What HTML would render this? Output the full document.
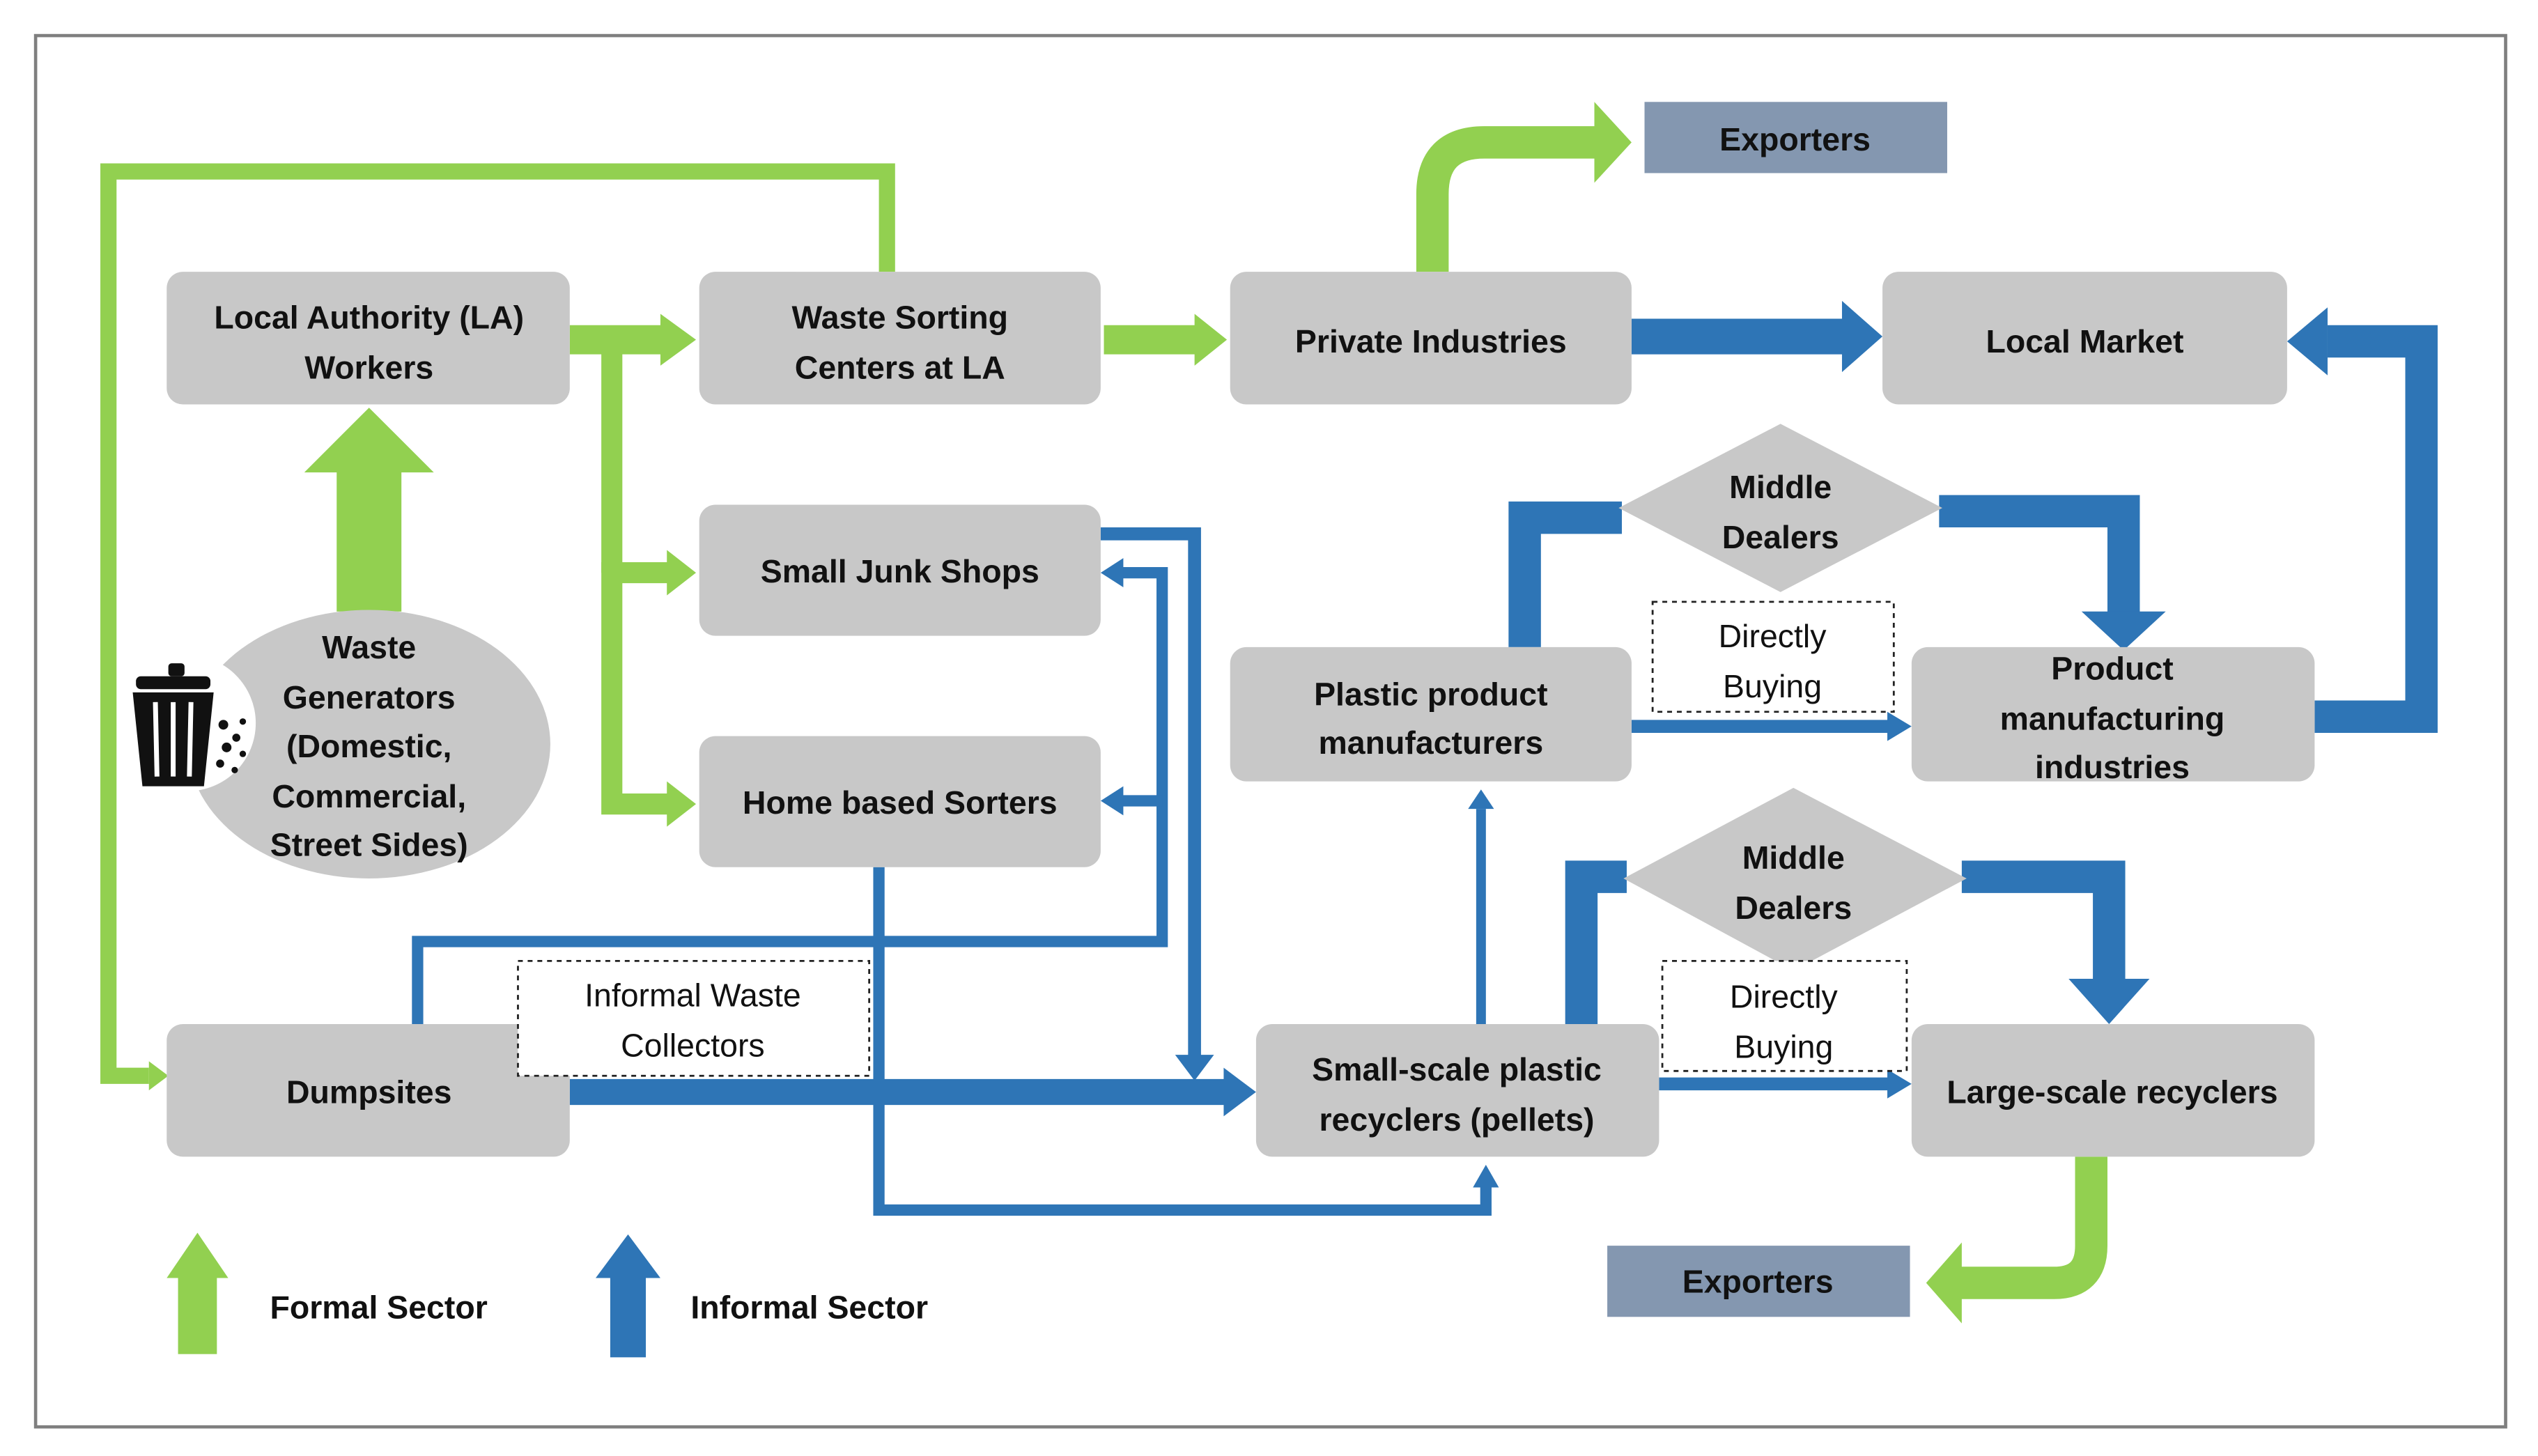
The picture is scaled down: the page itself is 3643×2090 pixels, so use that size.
<!DOCTYPE html>
<html><head><meta charset="utf-8"><style>
html,body{margin:0;padding:0;background:#fff}
svg{display:block}
text{font-family:"Liberation Sans",sans-serif;font-weight:bold;font-size:20px;fill:#111;text-anchor:middle}
.n{font-weight:normal}
</style></head><body>
<svg width="3643" height="2090" viewBox="0 0 1568 900" preserveAspectRatio="none" xmlns="http://www.w3.org/2000/svg">
<rect x="0" y="0" width="1568" height="900" fill="#fff"/>
<rect x="22" y="22" width="1526" height="860" fill="none" stroke="#7f7f7f" stroke-width="2"/>

<!-- GREEN connectors -->
<g fill="none" stroke="#92d050">
<polyline points="548,168 548,106 67,106 67,665 92,665" stroke-width="10"/>
<line x1="352" y1="210" x2="412" y2="210" stroke-width="18"/>
<line x1="682" y1="210" x2="740" y2="210" stroke-width="18"/>
<polyline points="415,354 378,354 378,497 415,497" stroke-width="13"/>
<line x1="378" y1="215" x2="378" y2="354" stroke-width="13"/>
<path d="M885,168 L885,120 Q885,88 917,88 L988,88" stroke-width="20"/>
<path d="M1292,715 L1292,770 Q1292,793 1269,793 L1210,793" stroke-width="20"/>
</g>
<g fill="#92d050">
<polygon points="92,656 104,665 92,674"/>
<polygon points="408,194 430,210 408,226"/>
<polygon points="738,194 758,210 738,226"/>
<polygon points="412,340 430,354 412,368"/>
<polygon points="412,483 430,497 412,511"/>
<polygon points="985,63 1008,88 985,113"/>
<polygon points="1212,768 1190,793 1212,818"/>
<rect x="208" y="290" width="40" height="88"/>
<polygon points="188,292 228,252 268,292"/>
<rect x="110" y="785" width="24" height="52"/>
<polygon points="103,790 122,762 141,790"/>
</g>

<!-- BLUE connectors -->
<g fill="none" stroke="#2e75b6">
<line x1="1008" y1="208" x2="1140" y2="208" stroke-width="22"/>
<polyline points="1430,443 1496,443 1496,211 1438,211" stroke-width="20"/>
<polyline points="942,400 942,320 1002,320" stroke-width="20"/>
<polyline points="1198,316 1312,316 1312,382" stroke-width="20"/>
<line x1="1008" y1="449" x2="1168" y2="449" stroke-width="8"/>
<line x1="915" y1="633" x2="915" y2="500" stroke-width="6"/>
<polyline points="977,633 977,542 1005,542" stroke-width="20"/>
<polyline points="1212,542 1303,542 1303,608" stroke-width="20"/>
<line x1="1025" y1="670" x2="1168" y2="670" stroke-width="8"/>
<line x1="352" y1="675" x2="758" y2="675" stroke-width="16"/>
<polyline points="680,330 738,330 738,655" stroke-width="8"/>
<polyline points="258,633 258,582 718,582 718,354 692,354" stroke-width="7"/>
<line x1="718" y1="495" x2="692" y2="495" stroke-width="7"/>
<polyline points="543,536 543,748 918,748 918,733" stroke-width="7"/>
</g>
<g fill="#2e75b6">
<polygon points="1138,186 1163,208 1138,230"/>
<polygon points="1438,190 1413,211 1438,232"/>
<polygon points="1286,378 1338,378 1312,402"/>
<polygon points="1166,440 1181,449 1166,458"/>
<polygon points="907,500 915,488 923,500"/>
<polygon points="1278,605 1328,605 1303,633"/>
<polygon points="1166,661 1181,670 1166,679"/>
<polygon points="756,660 776,675 756,690"/>
<polygon points="726,652 750,652 738,668"/>
<polygon points="694,345 680,354 694,363"/>
<polygon points="694,486 680,495 694,504"/>
<polygon points="910,734 918,720 926,734"/>
<rect x="377" y="785" width="22" height="54"/>
<polygon points="368,790 388,763 408,790"/>
</g>

<!-- Boxes -->
<g fill="#c8c8c8">
<rect x="103" y="168" width="249" height="82" rx="10"/>
<rect x="432" y="168" width="248" height="82" rx="10"/>
<rect x="760" y="168" width="248" height="82" rx="10"/>
<rect x="1163" y="168" width="250" height="82" rx="10"/>
<rect x="432" y="312" width="248" height="81" rx="10"/>
<rect x="432" y="455" width="248" height="81" rx="10"/>
<rect x="760" y="400" width="248" height="83" rx="10"/>
<rect x="1181" y="400" width="249" height="83" rx="10"/>
<rect x="103" y="633" width="249" height="82" rx="10"/>
<rect x="776" y="633" width="249" height="82" rx="10"/>
<rect x="1181" y="633" width="249" height="82" rx="10"/>
<polygon points="1100,262 1200,314 1100,366 1000,314"/>
<polygon points="1108,487 1215,543 1108,600 1003,543"/>
<ellipse cx="228" cy="460" rx="112" ry="83"/>
</g>
<rect x="1016" y="63" width="187" height="44" fill="#8497b0"/>
<rect x="993" y="770" width="187" height="44" fill="#8497b0"/>
<g fill="#fff" stroke="#222" stroke-width="1.2" stroke-dasharray="3,3">
<rect x="1021" y="372" width="149" height="68"/>
<rect x="1027" y="594" width="151" height="68"/>
<rect x="320" y="594" width="217" height="71"/>
</g>

<!-- trash icon -->
<circle cx="116" cy="447" r="42" fill="#fff"/>
<g fill="#111">
<path d="M82,428 L132,428 L126,486 L88,486 Z"/>
<rect x="84" y="418" width="46" height="8" rx="3"/>
<rect x="104" y="410" width="10" height="8" rx="2"/>
</g>
<g stroke="#fff" stroke-width="3">
<line x1="96" y1="434" x2="97" y2="480"/><line x1="107" y1="434" x2="107" y2="480"/><line x1="118" y1="434" x2="117" y2="480"/>
</g>
<g fill="#111"><circle cx="138" cy="448" r="3"/><circle cx="146" cy="456" r="2.5"/><circle cx="140" cy="462" r="3"/><circle cx="150" cy="466" r="2"/><circle cx="136" cy="472" r="2.5"/><circle cx="145" cy="476" r="2"/><circle cx="150" cy="446" r="2"/></g>

<!-- Text -->
<text x="228" y="203">Local Authority (LA)</text><text x="228" y="234">Workers</text>
<text x="556" y="203">Waste Sorting</text><text x="556" y="234">Centers at LA</text>
<text x="884" y="218">Private Industries</text>
<text x="1288" y="218">Local Market</text>
<text x="1109" y="93">Exporters</text>
<text x="1086" y="799">Exporters</text>
<text x="556" y="360">Small Junk Shops</text>
<text x="556" y="503">Home based Sorters</text>
<text x="884" y="436">Plastic product</text><text x="884" y="466">manufacturers</text>
<text x="1305" y="420">Product</text><text x="1305" y="451">manufacturing</text><text x="1305" y="481">industries</text>
<text x="1100" y="308">Middle</text><text x="1100" y="339">Dealers</text>
<text x="1108" y="537">Middle</text><text x="1108" y="568">Dealers</text>
<text class="n" x="1095" y="400">Directly</text><text class="n" x="1095" y="431">Buying</text>
<text class="n" x="1102" y="623">Directly</text><text class="n" x="1102" y="654">Buying</text>
<text class="n" x="428" y="622">Informal Waste</text><text class="n" x="428" y="653">Collectors</text>
<text x="228" y="682">Dumpsites</text>
<text x="900" y="668">Small-scale plastic</text><text x="900" y="699">recyclers (pellets)</text>
<text x="1305" y="682">Large-scale recyclers</text>
<text x="228" y="407">Waste</text><text x="228" y="438">Generators</text><text x="228" y="468">(Domestic,</text><text x="228" y="499">Commercial,</text><text x="228" y="529">Street Sides)</text>
<text x="234" y="815">Formal Sector</text>
<text x="500" y="815">Informal Sector</text>
</svg>
</body></html>
